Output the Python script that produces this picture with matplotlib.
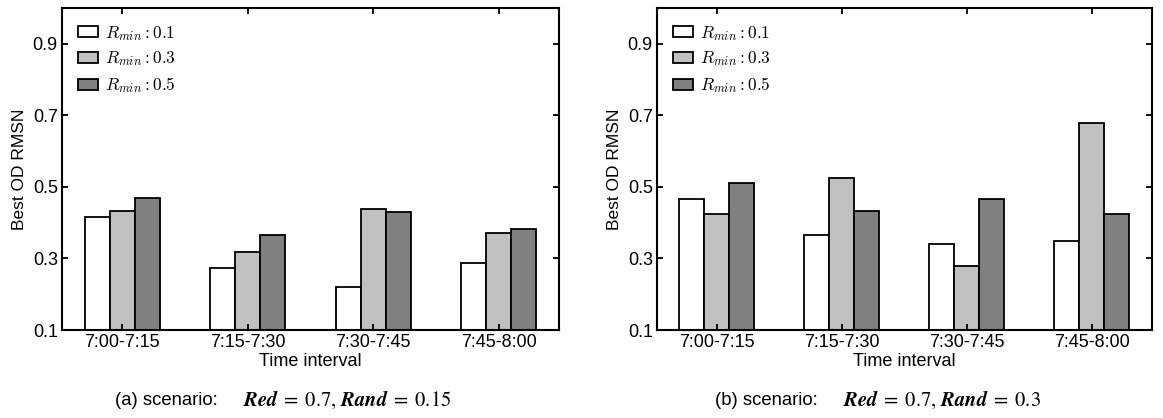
import numpy as np
import matplotlib
matplotlib.use("Agg")
import matplotlib.pyplot as plt

# data
INTERVALS = ["7:00-7:15", "7:15-7:30", "7:30-7:45", "7:45-8:00"]
RMIN_LABELS = [r"$R_{min}: 0.1$", r"$R_{min}: 0.3$", r"$R_{min}: 0.5$"]

# panel (a): Red = 0.7, Rand = 0.15
a_rmin01 = [0.417, 0.273, 0.221, 0.288]
a_rmin03 = [0.434, 0.317, 0.439, 0.370]
a_rmin05 = [0.468, 0.366, 0.431, 0.381]

# panel (b): Red = 0.7, Rand = 0.3
b_rmin01 = [0.467, 0.366, 0.340, 0.350]
b_rmin03 = [0.425, 0.524, 0.280, 0.680]
b_rmin05 = [0.510, 0.434, 0.465, 0.423]

CAPTION_HEADS = ["(a) scenario:", "(b) scenario:"]
CAPTION_MATH = [r"$\mathbfit{Red}\;=\;0.7,\,\mathbfit{Rand}\;=\;0.15$",
                r"$\mathbfit{Red}\;=\;0.7,\,\mathbfit{Rand}\;=\;0.3$"]

COLORS = ["white", "#c0c0c0", "#808080"]

plt.rcParams["font.family"] = ["Liberation Sans", "DejaVu Sans"]
plt.rcParams["mathtext.fontset"] = "cm"


def draw_panel(ax, series):
    x = np.arange(len(INTERVALS))
    w = 0.2
    for i, (vals, col, lab) in enumerate(zip(series, COLORS, RMIN_LABELS)):
        ax.bar(x + (i - 1) * w, np.array(vals) - 0.1, w, bottom=0.1,
               color=col, edgecolor="black", linewidth=1.3, label=lab)
    ax.set_xlim(-0.48, 3.48)
    ax.set_ylim(0.1, 1.0)
    ax.set_xticks(x)
    ax.set_xticklabels(INTERVALS, fontsize=13)
    ax.set_yticks([0.1, 0.3, 0.5, 0.7, 0.9])
    ax.set_yticklabels(["0.1", "0.3", "0.5", "0.7", "0.9"], fontsize=13)
    ax.tick_params(direction="in", top=True, right=True, length=4, width=1.3, pad=3)
    for s in ax.spines.values():
        s.set_linewidth(1.5)
    ax.set_ylabel("Best OD RMSN", fontsize=12.5, labelpad=4)
    ax.set_xlabel("Time interval", fontsize=13, labelpad=1)
    ax.legend(loc="upper left", frameon=False, fontsize=12.5,
              handlelength=1.15, handleheight=0.6, handletextpad=0.4,
              labelspacing=0.4, borderaxespad=0.5)


fig = plt.figure(figsize=(11.63, 4.18), dpi=100)
ax1 = fig.add_axes([0.0533, 0.2105, 0.4273, 0.7703])
ax2 = fig.add_axes([0.5649, 0.2105, 0.4256, 0.7703])

draw_panel(ax1, [a_rmin01, a_rmin03, a_rmin05])
draw_panel(ax2, [b_rmin01, b_rmin03, b_rmin05])

# captions: sans head + serif math part
for head, math, x_head, x_math in zip(CAPTION_HEADS, CAPTION_MATH,
                                      [0.0989, 0.6148], [0.2089, 0.7248]):
    fig.text(x_head, 0.043, head, ha="left", va="center", fontsize=13.3,
             family="Liberation Sans")
    fig.text(x_math, 0.043, math, ha="left", va="center", fontsize=14.8,
             math_fontfamily="stix")

fig.savefig("out.png", dpi=100)
